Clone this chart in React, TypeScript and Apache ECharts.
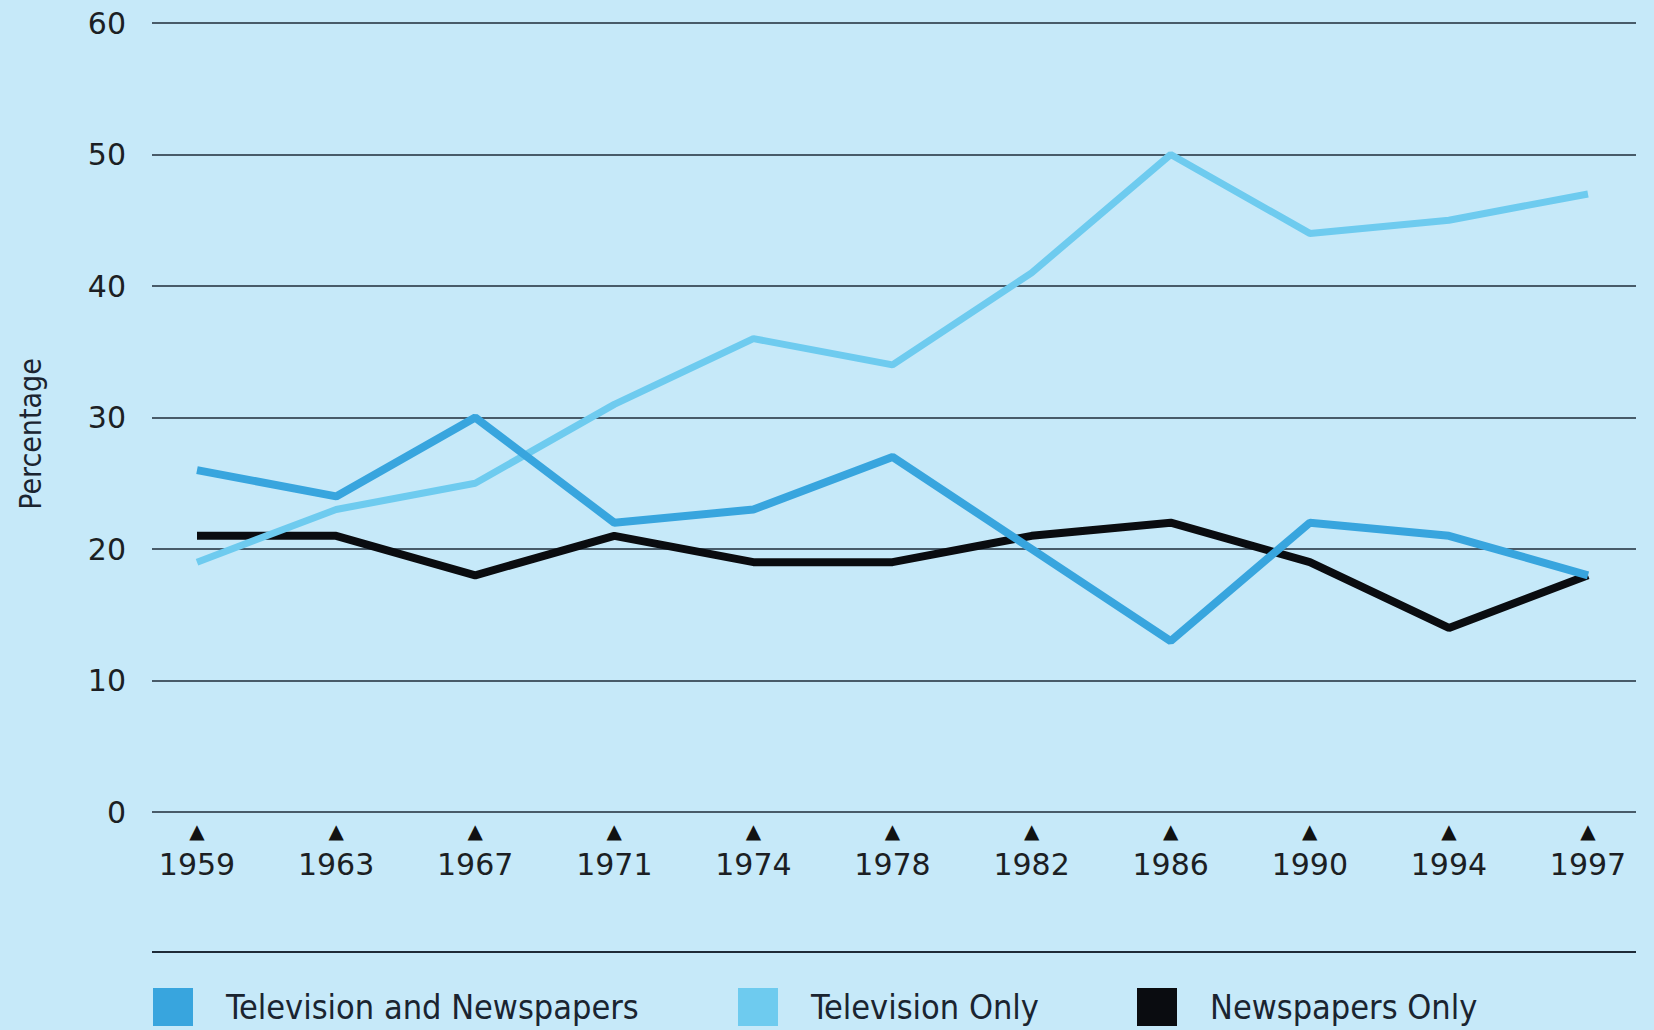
import React, { useEffect, useRef } from "react";
import * as echarts from "echarts";

const years = ["1959", "1963", "1967", "1971", "1974", "1978", "1982", "1986", "1990", "1994", "1997"];
const tvAndNewspapers = [26, 24, 30, 22, 23, 27, 20, 13, 22, 21, 18];
const tvOnly = [19, 23, 25, 31, 36, 34, 41, 50, 44, 45, 47];
const newspapersOnly = [21, 21, 18, 21, 19, 19, 21, 22, 19, 14, 18];
const yTicks = { min: 0, max: 60, interval: 10 };

const BG = "#c6e9f9";
const C_TVN = "#38a5de";
const C_TV = "#6ecbef";
const C_NP = "#0a0c10";
const INK = "#1a2430";
const NARROW = "'Liberation Sans Narrow', 'DejaVu Sans Condensed', 'Open Sans', sans-serif";

export default function App() {
  const ref = useRef<HTMLDivElement>(null);
  useEffect(() => {
    if (!ref.current) return;
    const chart = echarts.init(ref.current, null, { renderer: "svg" });
    const legendBase = (left: number, name: string) => ({
      left,
      top: 988,
      padding: 0,
      orient: "horizontal",
      icon: "rect",
      itemWidth: 40,
      itemHeight: 38,
      selectedMode: false,
      data: [name],
      textStyle: {
        fontFamily: NARROW,
        fontSize: 34,
        color: INK,
        padding: [0, 0, 0, 28],
      },
    });
    chart.setOption({
      animation: false,
      backgroundColor: BG,
      grid: [
        { left: 152, right: 18, top: 23, bottom: 218 },
        { left: 197, right: 66, top: 23, bottom: 218 },
      ],
      xAxis: [
        { gridIndex: 0, type: "value", show: false, min: 0, max: 1 },
        {
          gridIndex: 1,
          type: "category",
          boundaryGap: false,
          data: years,
          axisLine: { show: false },
          axisTick: { show: false },
          axisLabel: {
            margin: 7,
            formatter: (v: string) => `{t|▲}\n{y|${v}}`,
            rich: {
              t: { fontFamily: "DejaVu Sans", fontSize: 20, lineHeight: 24, color: "#111" },
              y: { fontFamily: "DejaVu Sans", fontSize: 30, lineHeight: 42, color: "#1c1f24" },
            },
          },
        },
      ],
      yAxis: [
        {
          gridIndex: 0,
          type: "value",
          min: yTicks.min,
          max: yTicks.max,
          interval: yTicks.interval,
          axisLine: { show: false },
          axisTick: { show: false },
          axisLabel: { margin: 26, fontFamily: "DejaVu Sans", fontSize: 30, color: "#1c1f24" },
          splitLine: { show: true, lineStyle: { color: "#1e2b38", width: 1.5 } },
        },
        {
          gridIndex: 1,
          type: "value",
          min: yTicks.min,
          max: yTicks.max,
          interval: yTicks.interval,
          show: false,
          splitLine: { show: false },
        },
      ],
      legend: [
        legendBase(153, "Television and Newspapers"),
        legendBase(738, "Television Only"),
        legendBase(1137, "Newspapers Only"),
      ],
      graphic: [
        {
          type: "line",
          shape: { x1: 152, y1: 952, x2: 1636, y2: 952 },
          style: { stroke: "#1e2b38", lineWidth: 2 },
        },
        {
          type: "text",
          x: 30,
          y: 434,
          rotation: Math.PI / 2,
          style: {
            text: "Percentage",
            fontFamily: NARROW,
            fontSize: 30,
            fill: INK,
            align: "center",
            verticalAlign: "middle",
          },
        },
      ],
      series: [
        {
          name: "Newspapers Only",
          type: "line",
          xAxisIndex: 1,
          yAxisIndex: 1,
          data: newspapersOnly,
          symbol: "none",
          color: C_NP,
          lineStyle: { color: C_NP, width: 8 },
          z: 2,
        },
        {
          name: "Television Only",
          type: "line",
          xAxisIndex: 1,
          yAxisIndex: 1,
          data: tvOnly,
          symbol: "none",
          color: C_TV,
          lineStyle: { color: C_TV, width: 7 },
          z: 3,
        },
        {
          name: "Television and Newspapers",
          type: "line",
          xAxisIndex: 1,
          yAxisIndex: 1,
          data: tvAndNewspapers,
          symbol: "none",
          color: C_TVN,
          lineStyle: { color: C_TVN, width: 8 },
          z: 4,
        },
      ],
    });
    return () => chart.dispose();
  }, []);
  return (
    <div
      ref={ref}
      style={{ position: "fixed", left: 0, top: 0, width: 1654, height: 1030, background: BG }}
    />
  );
}
